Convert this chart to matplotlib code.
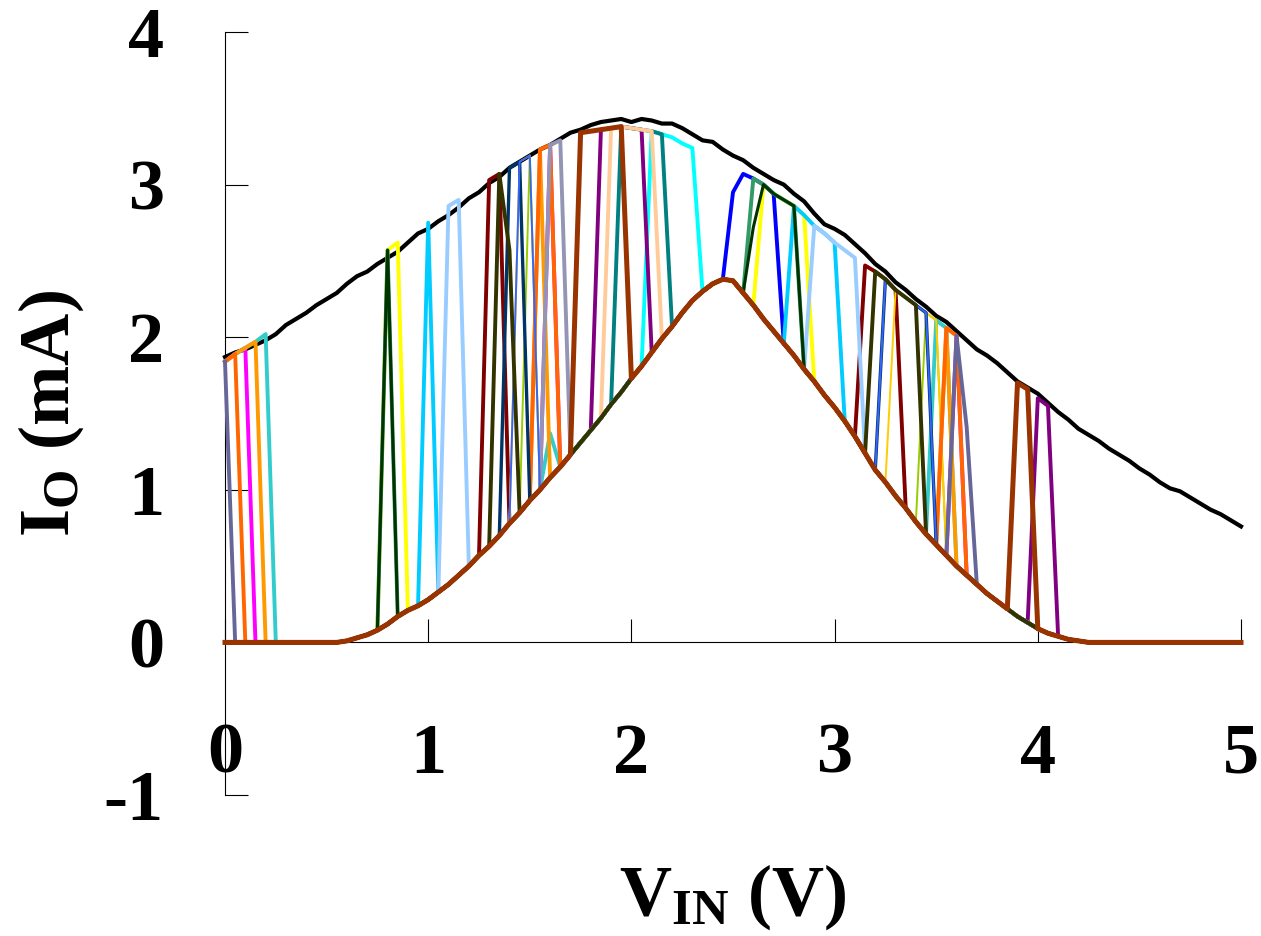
import numpy as np
import matplotlib
matplotlib.use("Agg")
import matplotlib.pyplot as plt
from matplotlib import rcParams

rcParams["font.family"] = ["Liberation Serif", "DejaVu Serif"]
rcParams["font.weight"] = "bold"
rcParams["mathtext.fontset"] = "custom"
rcParams["mathtext.rm"] = "Liberation Serif:bold"
rcParams["mathtext.bf"] = "Liberation Serif:bold"
rcParams["mathtext.it"] = "Liberation Serif:bold"
rcParams["mathtext.default"] = "rm"
rcParams["axes.unicode_minus"] = False

# sampling grid of the sweep, 0 .. 5 V in 0.05 V steps
V_IN = np.linspace(0.0, 5.0, 101)

# upper envelope (black curve), mA
ENVELOPE = [
    1.87, 1.90, 1.92, 1.95, 1.98, 2.02, 2.08, 2.12, 2.16, 2.21,
    2.25, 2.29, 2.35, 2.40, 2.43, 2.48, 2.52, 2.56, 2.62, 2.68,
    2.71, 2.76, 2.80, 2.85, 2.91, 2.95, 3.01, 3.05, 3.11, 3.15,
    3.19, 3.23, 3.26, 3.30, 3.34, 3.36, 3.39, 3.41, 3.42, 3.43,
    3.41, 3.43, 3.42, 3.40, 3.40, 3.37, 3.33, 3.29, 3.28, 3.23,
    3.19, 3.16, 3.11, 3.07, 3.03, 3.00, 2.94, 2.89, 2.81, 2.74,
    2.71, 2.67, 2.61, 2.55, 2.48, 2.43, 2.36, 2.31, 2.25, 2.20,
    2.14, 2.10, 2.04, 1.98, 1.92, 1.88, 1.83, 1.77, 1.71, 1.67,
    1.63, 1.57, 1.51, 1.46, 1.40, 1.36, 1.32, 1.27, 1.23, 1.19,
    1.14, 1.10, 1.05, 1.01, 0.99, 0.95, 0.91, 0.87, 0.84, 0.80,
    0.76,
]

# low state (tent shaped curve), mA
LOW = [
    0.00, 0.00, 0.00, 0.00, 0.00, 0.00, 0.00, 0.00, 0.00, 0.00,
    0.00, 0.00, 0.01, 0.03, 0.05, 0.08, 0.12, 0.17, 0.21, 0.24,
    0.28, 0.33, 0.38, 0.44, 0.50, 0.57, 0.63, 0.70, 0.78, 0.85,
    0.93, 1.00, 1.08, 1.15, 1.23, 1.31, 1.39, 1.47, 1.56, 1.64,
    1.73, 1.81, 1.90, 1.99, 2.07, 2.16, 2.24, 2.30, 2.35, 2.38,
    2.37, 2.29, 2.21, 2.12, 2.04, 1.96, 1.88, 1.79, 1.71, 1.62,
    1.54, 1.45, 1.35, 1.24, 1.13, 1.05, 0.96, 0.88, 0.79, 0.71,
    0.64, 0.57, 0.50, 0.44, 0.38, 0.32, 0.27, 0.22, 0.17, 0.13,
    0.09, 0.06, 0.04, 0.02, 0.01, 0.00, 0.00, 0.00, 0.00, 0.00,
    0.00, 0.00, 0.00, 0.00, 0.00, 0.00, 0.00, 0.00, 0.00, 0.00,
    0.00,
]

# high state reached by the switched traces (None = never high there)
HIGH = [
    1.84, 1.89, 1.93, 1.97, 2.02, None, None, None, None, None,
    None, None, None, None, None, None, 2.57, 2.62, None, None,
    2.75, None, 2.86, 2.90, None, None, 3.03, 3.07, 3.11, 3.15,
    3.19, 3.23, 3.26, 3.29, 3.32, 3.34, 3.35, 3.36, 3.37, 3.38,
    3.37, 3.36, 3.35, 3.33, 3.31, 3.27, 3.24, None, None, None,
    2.95, 3.07, 3.04, 3.00, 2.94, 2.90, 2.86, 2.80, 2.73, 2.68,
    2.62, 2.57, 2.52, 2.47, 2.43, 2.38, 2.31, 2.26, 2.21, 2.16,
    2.11, 2.06, 2.01, None, None, None, None, None, 1.70, 1.66,
    1.60, 1.55, None, None, None, None, None, None, None, None,
    None, None, None, None, None, None, None, None, None, None,
    None,
]

# traces: colour, line width, high windows (first, last sample index), odd points
TRACE_COLORS = [
    "#FF00FF", "#FFFF00", "#00FFFF", "#800080", "#800000", "#008080",
    "#0000FF", "#00CCFF", "#99CCFF", "#FFCC99", "#FFFF99", "#33CCCC",
    "#99CC00", "#FFCC00", "#FF9900", "#FF6600", "#666699", "#9494B4",
    "#003366", "#3366FF", "#339966", "#003300", "#333300", "#993300",
]
TRACE_WIDTHS = [
    2.8, 2.8, 2.8, 2.8, 2.8, 2.8,
    2.8, 2.8, 2.8, 2.8, 1.4, 2.8,
    1.4, 1.4, 2.8, 2.8, 2.8, 2.8,
    2.4, 1.4, 2.8, 2.2, 2.8, 3.6,
]
TRACE_WINDOWS = [
    [(0, 2), (32, 32), (72, 72)],
    [(16, 17), (53, 57)],
    [(42, 46)],
    [(37, 41), (80, 81)],
    [(26, 27), (63, 66)],
    [(39, 43)],
    [(50, 54)],
    [(20, 20), (56, 60)],
    [(22, 23), (58, 62)],
    [(38, 42)],
    [(29, 29)],
    [(0, 4), (70, 71)],
    [(30, 30), (69, 70)],
    [(29, 30), (66, 70)],
    [(0, 3), (31, 31), (71, 71)],
    [(0, 1), (31, 32), (71, 72)],
    [(0, 0), (72, 72)],
    [(32, 33)],
    [(28, 29), (65, 69)],
    [(29, 30), (65, 69)],
    [(16, 16), (52, 56)],
    [(16, 16), (53, 56)],
    [(27, 27), (64, 68)],
    [(35, 39), (78, 79)],
]
# points part way between the two states: {trace index: [(sample, mA)]}
TRACE_MIDPOINTS = {
    11: [(32, 1.37)],
    16: [(73, 1.41)],
    21: [(52, 2.72)],
    22: [(28, 2.57)],
}


def trace_values(k):
    low = np.array(LOW, dtype=float)
    high = np.array([np.nan if h is None else h for h in HIGH], dtype=float)
    y = low.copy()
    for a, b in TRACE_WINDOWS[k]:
        y[a:b + 1] = high[a:b + 1]
    for i, v in TRACE_MIDPOINTS.get(k, []):
        y[i] = v
    return y


def main():
    fig = plt.figure(figsize=(12.61, 9.36), dpi=100)
    ax = fig.add_axes([225 / 1261, 1 - 795 / 936, 1016 / 1261, 763 / 936])

    ax.plot(V_IN, ENVELOPE, color="black", lw=3.0, zorder=2, clip_on=False)
    for k, color in enumerate(TRACE_COLORS):
        ax.plot(V_IN, trace_values(k), color=color, lw=TRACE_WIDTHS[k],
                zorder=3 + k, clip_on=False)

    ax.set_xlim(0, 5)
    ax.set_ylim(-1, 4)
    ax.set_xticks(range(0, 6))
    ax.set_yticks(range(-1, 5))

    ax.spines["top"].set_visible(False)
    ax.spines["right"].set_visible(False)
    ax.spines["bottom"].set_position(("data", 0))
    for s in ("left", "bottom"):
        ax.spines[s].set_linewidth(0.8)
        ax.spines[s].set_zorder(1)

    ax.tick_params(axis="both", direction="in", length=16.5, width=0.8,
                   labelsize=52)
    ax.tick_params(axis="x", pad=58)
    ax.tick_params(axis="y", pad=44)
    for lbl in ax.get_xticklabels() + ax.get_yticklabels():
        lbl.set_fontweight("bold")

    ax.set_xlabel(r"V$_{\mathrm{IN}}$ (V)", fontsize=52, fontweight="bold")
    ax.xaxis.set_label_coords(0.5, -0.088)
    ax.set_ylabel(r"I$_{\mathrm{O}}$ (mA)", fontsize=52, fontweight="bold")
    ax.yaxis.set_label_coords(-0.137, 0.5)

    fig.savefig("out.png", dpi=100)


if __name__ == "__main__":
    main()
